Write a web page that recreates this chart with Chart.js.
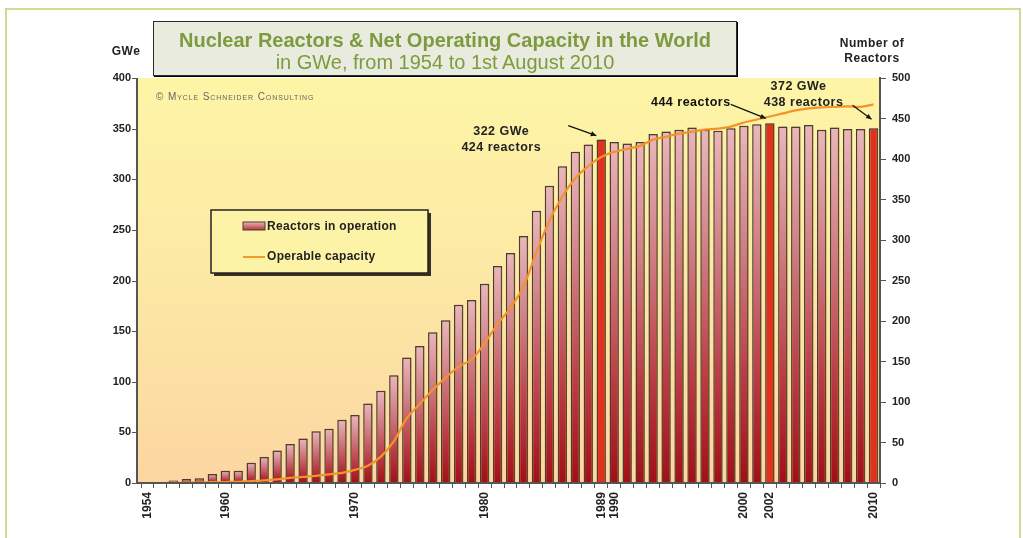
<!DOCTYPE html>
<html>
<head>
<meta charset="utf-8">
<script src="https://cdn.jsdelivr.net/npm/chart.js@4.4.1/dist/chart.umd.min.js"></script>
<style>
  html, body { margin: 0; padding: 0; background: #fff; }
  #wrap { position: relative; width: 1023px; height: 538px; overflow: hidden; }
  #frame { position: absolute; left: 5px; top: 8px; width: 1012px; height: 560px; border: 2px solid #cadd94; }
  #chart { position: absolute; left: 0; top: 0; }
  #title {
    position: absolute; left: 153px; top: 21px; width: 582px; height: 53px;
    background: #e9ebdf; border: 1.5px solid #2a2a2a; box-shadow: 1px 1px 0 #000;
    font-family: "Liberation Sans", Arial, sans-serif; color: #7d9b3e; text-align: center;
  }
  #title .t1 { font-weight: bold; font-size: 20px; margin-top: 7px; line-height: 22px; }
  #title .t2 { font-size: 20px; line-height: 22px; }
</style>
</head>
<body>
<div id="wrap">
  <div id="frame"></div>
  <canvas id="chart" width="1023" height="538"></canvas>
  <div id="title">
    <div class="t1">Nuclear Reactors &amp; Net Operating Capacity in the World</div>
    <div class="t2">in GWe, from 1954 to 1st August 2010</div>
  </div>
</div>
<script>
const years = [1954, 1955, 1956, 1957, 1958, 1959, 1960, 1961, 1962, 1963, 1964, 1965, 1966, 1967, 1968, 1969,
  1970, 1971, 1972, 1973, 1974, 1975, 1976, 1977, 1978, 1979, 1980, 1981, 1982, 1983, 1984, 1985, 1986, 1987,
  1988, 1989, 1990, 1991, 1992, 1993, 1994, 1995, 1996, 1997, 1998, 1999, 2000, 2001, 2002, 2003, 2004, 2005,
  2006, 2007, 2008, 2009, 2010];

// reactors in operation (right axis)
const reactors = [1, 1, 3, 5, 6, 11, 15, 15, 25, 32, 40, 48, 55, 64, 67, 78,
  84, 98, 114, 133, 155, 169, 186, 201, 220, 226, 246, 268, 284, 305, 336, 367, 391, 409,
  418, 424, 421, 419, 421, 431, 434, 436, 439, 436, 435, 438, 441, 443, 444, 440, 440, 442,
  436, 439, 437, 437, 438];

// operable capacity in GWe (left axis)
const capacity = [0, 0, 0.1, 0.3, 0.5, 0.8, 1, 1.2, 2, 2.5, 3.5, 5, 6, 7, 8.5, 10,
  13, 17, 26, 41, 64, 78, 92, 104, 115, 122, 138, 157, 173, 194, 228, 259, 283, 301,
  313, 322, 327, 330, 333, 339, 342, 345, 347, 349, 350, 352, 356, 359, 362, 365, 368, 370,
  371, 371.5, 372, 371.5, 374];

const labelYears = [1954, 1960, 1970, 1980, 1989, 1990, 2000, 2002, 2010];
const highlightYears = [1989, 2002, 2010];
const gweTicks = [0, 50, 100, 150, 200, 250, 300, 350, 400];

const FONT = '"Liberation Sans", Arial, sans-serif';
const AXIS_X = 137; // where the left axis line sits

function barFill(ctx) {
  const chart = ctx.chart;
  if (ctx.type !== 'data' || !chart.chartArea) return '#c0392b';
  if (highlightYears.includes(years[ctx.dataIndex])) return '#e3301d';
  const s = chart.scales.yR;
  const top = s.getPixelForValue(ctx.raw);
  const bottom = s.getPixelForValue(0);
  const g = chart.ctx.createLinearGradient(0, top, 0, bottom + 0.01);
  g.addColorStop(0, '#ebb6bd');
  g.addColorStop(0.3, '#d3858c');
  g.addColorStop(0.7, '#bb3c45');
  g.addColorStop(1, '#a20f16');
  return g;
}

const decor = {
  id: 'decor',
  beforeDraw(chart) {
    const { ctx, chartArea: a } = chart;
    const g = ctx.createLinearGradient(0, a.top, 0, a.bottom);
    g.addColorStop(0, '#fdf5a6');
    g.addColorStop(0.5, '#fce8a5');
    g.addColorStop(1, '#fcd6a1');
    ctx.save();
    ctx.fillStyle = g;
    ctx.fillRect(AXIS_X, a.top, a.right - AXIS_X, a.bottom - a.top);
    ctx.restore();
  },
  beforeDatasetDraw(chart, args) {
    if (args.meta.type !== 'bar') return;
    const ctx = chart.ctx;
    ctx.save();
    ctx.shadowColor = 'rgba(110, 90, 40, 0.45)';
    ctx.shadowOffsetX = 2;
    ctx.shadowOffsetY = 0;
    ctx.shadowBlur = 2;
  },
  afterDatasetDraw(chart, args) {
    if (args.meta.type !== 'bar') return;
    chart.ctx.restore();
  },
  afterDraw(chart) {
    const { ctx, scales, chartArea: a } = chart;
    const x = scales.x, y = scales.y, yR = scales.yR;
    ctx.save();

    // left and bottom axis lines, left tick marks
    ctx.strokeStyle = '#555';
    ctx.lineWidth = 2;
    ctx.beginPath();
    ctx.moveTo(AXIS_X, a.top);
    ctx.lineTo(AXIS_X, a.bottom + 1);
    ctx.moveTo(AXIS_X - 1, a.bottom);
    ctx.lineTo(a.right, a.bottom);
    ctx.stroke();
    ctx.lineWidth = 1;
    ctx.beginPath();
    gweTicks.forEach(v => {
      const py = Math.round(y.getPixelForValue(v)) + 0.5;
      ctx.moveTo(AXIS_X - 5, py);
      ctx.lineTo(AXIS_X, py);
    });
    ctx.stroke();

    // axis titles
    ctx.fillStyle = '#222';
    ctx.font = 'bold 12px ' + FONT;
    ctx.textAlign = 'center';
    ctx.textBaseline = 'middle';
    ctx.letterSpacing = '0.5px';
    ctx.fillText('GWe', 126, 52);
    ctx.fillText('Number of', 872, 44);
    ctx.fillText('Reactors', 872, 59);

    // copyright
    ctx.fillStyle = '#666';
    ctx.font = 'small-caps 10px ' + FONT;
    ctx.letterSpacing = '0.9px';
    ctx.textAlign = 'left';
    ctx.fillText('© Mycle Schneider Consulting', 156, 97);
    ctx.letterSpacing = '0px';

    // legend box
    ctx.fillStyle = '#3a3020';
    ctx.fillRect(214, 213, 217, 63);
    ctx.fillStyle = '#fdf3a6';
    ctx.fillRect(211, 210, 217, 63);
    ctx.strokeStyle = '#222';
    ctx.lineWidth = 1.5;
    ctx.strokeRect(211, 210, 217, 63);
    const sg = ctx.createLinearGradient(0, 222, 0, 231);
    sg.addColorStop(0, '#e9b3ba');
    sg.addColorStop(1, '#b02630');
    ctx.fillStyle = sg;
    ctx.fillRect(243, 222, 22, 8);
    ctx.strokeStyle = '#4b3b33';
    ctx.lineWidth = 1;
    ctx.strokeRect(243, 222, 22, 8);
    ctx.strokeStyle = '#f39a2e';
    ctx.lineWidth = 2;
    ctx.beginPath();
    ctx.moveTo(243, 257);
    ctx.lineTo(265, 257);
    ctx.stroke();
    ctx.fillStyle = '#222';
    ctx.font = 'bold 12px ' + FONT;
    ctx.letterSpacing = '0.3px';
    ctx.fillText('Reactors in operation', 267, 227);
    ctx.fillText('Operable capacity', 267, 257);

    // annotations
    function arrow(x1, y1, x2, y2) {
      ctx.strokeStyle = '#111';
      ctx.fillStyle = '#111';
      ctx.lineWidth = 1.2;
      ctx.beginPath();
      ctx.moveTo(x1, y1);
      ctx.lineTo(x2, y2);
      ctx.stroke();
      const ang = Math.atan2(y2 - y1, x2 - x1);
      ctx.beginPath();
      ctx.moveTo(x2, y2);
      ctx.lineTo(x2 - 6 * Math.cos(ang - 0.45), y2 - 6 * Math.sin(ang - 0.45));
      ctx.lineTo(x2 - 6 * Math.cos(ang + 0.45), y2 - 6 * Math.sin(ang + 0.45));
      ctx.closePath();
      ctx.fill();
    }
    ctx.font = 'bold 12.5px ' + FONT;
    ctx.letterSpacing = '0.5px';
    ctx.textAlign = 'center';
    ctx.fillStyle = '#222';

    const i89 = years.indexOf(1989);
    const x89 = x.getPixelForValue(i89), t89 = yR.getPixelForValue(reactors[i89]);
    ctx.fillText('322 GWe', x89 - 100, t89 - 8);
    ctx.fillText('424 reactors', x89 - 100, t89 + 8);
    arrow(x89 - 33, t89 - 14, x89 - 5, t89 - 4);

    const i02 = years.indexOf(2002);
    const x02 = x.getPixelForValue(i02), t02 = yR.getPixelForValue(reactors[i02]);
    ctx.fillText('444 reactors', x02 - 79, t02 - 21);
    ctx.fillStyle = '#111';
    arrow(x02 - 39, t02 - 19, x02 - 4, t02 - 5);

    const i10 = years.indexOf(2010);
    const x10 = x.getPixelForValue(i10), t10 = yR.getPixelForValue(reactors[i10]);
    ctx.fillStyle = '#222';
    ctx.fillText('372 GWe', x10 - 75, t10 - 42);
    ctx.fillText('438 reactors', x10 - 70, t10 - 26);
    arrow(x10 - 21, t10 - 23, x10 - 2, t10 - 9);

    ctx.restore();
  }
};

const tickFont = { family: FONT, size: 11, weight: 'bold' };

new Chart(document.getElementById('chart'), {
  type: 'bar',
  data: {
    labels: years,
    datasets: [
      {
        type: 'line',
        label: 'Operable capacity',
        data: capacity,
        yAxisID: 'y',
        borderColor: '#f5922a',
        borderWidth: 2.2,
        pointRadius: 0,
        tension: 0.35,
        fill: false,
        order: 0
      },
      {
        type: 'bar',
        label: 'Reactors in operation',
        data: reactors,
        yAxisID: 'yR',
        backgroundColor: barFill,
        borderColor: '#4b3b33',
        borderWidth: 1.5,
        barPercentage: 0.72,
        categoryPercentage: 1,
        order: 1
      }
    ]
  },
  options: {
    responsive: false,
    animation: false,
    layout: { padding: { top: 78, left: 0, right: 0, bottom: 0 } },
    plugins: { legend: { display: false }, title: { display: false }, tooltip: { enabled: false } },
    scales: {
      x: {
        offset: true,
        grid: { display: true, drawOnChartArea: false, drawTicks: true, tickLength: 5, offset: true, color: '#555' },
        border: { display: false },
        ticks: {
          autoSkip: false, maxRotation: 90, minRotation: 90, padding: 4,
          color: '#222', font: { family: FONT, size: 12, weight: 'bold' },
          callback: (v, i) => labelYears.includes(years[i]) ? String(years[i]) : ''
        },
        afterFit: s => { s.height = 55; }
      },
      y: {
        position: 'left', min: 0, max: 400,
        grid: { drawOnChartArea: false, drawTicks: false },
        border: { display: false },
        ticks: { stepSize: 50, color: '#222', font: tickFont, padding: 10 },
        afterFit: s => { s.width = 141; }
      },
      yR: {
        position: 'right', min: 0, max: 500,
        grid: { drawOnChartArea: false, tickLength: 6, color: '#555' },
        border: { color: '#555', width: 2 },
        ticks: { stepSize: 50, color: '#222', font: tickFont, padding: 6 },
        afterFit: s => { s.width = 143; }
      }
    }
  },
  plugins: [decor]
});
</script>
</body>
</html>
